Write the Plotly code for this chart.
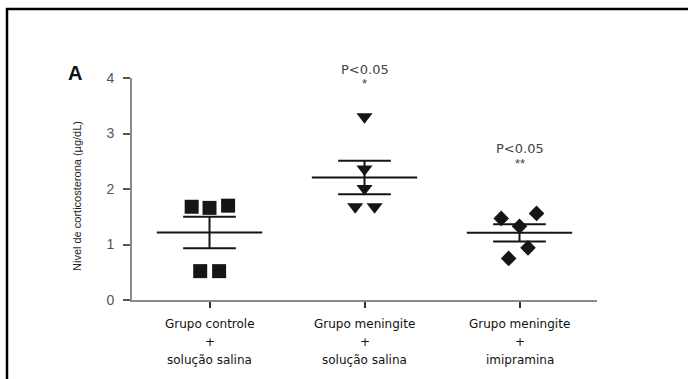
import numpy as np
import plotly.graph_objects as go

# Corticosterone levels (µg/dL) per animal, one list per group
controle_salina = [1.68, 1.66, 1.70, 0.52, 0.52]
meningite_salina = [3.30, 2.36, 2.01, 1.68, 1.68]
meningite_imipramina = [1.47, 1.56, 1.33, 0.94, 0.75]

group_values = [controle_salina, meningite_salina, meningite_imipramina]
group_line1 = ["Grupo controle", "Grupo meningite", "Grupo meningite"]
group_line3 = ["solução salina", "solução salina", "imipramina"]
p_labels = ["", "P<0.05", "P<0.05"]
star_labels = ["", "*", "**"]
y_ticks = [0, 1, 2, 3, 4]

# horizontal spread of the dots inside each column (scatter-dot layout)
spread = [
    [-0.115, 0.0, 0.12, -0.06, 0.062],
    [0.0, 0.0, 0.0, -0.06, 0.065],
    [-0.118, 0.11, 0.0, 0.055, -0.07],
]
symbols = ["square", "triangle-down", "diamond"]
sizes = [14, 14, 12]

# plot-area geometry in pixels
W, H = 688, 379
L, R, T, B = 132, 597, 78, 300
PW, PH = R - L, B - T


def px(x):
    return (x - L) / PW


def py(y):
    return (B - y) / PH


fig = go.Figure()
ink = "#151515"

for i, vals in enumerate(group_values):
    v = np.array(vals, dtype=float)
    mean = v.mean()
    sem = v.std(ddof=1) / np.sqrt(len(v))
    # mean line
    fig.add_trace(go.Scatter(x=[i - 0.34, i + 0.34], y=[mean, mean], mode="lines",
                             line=dict(color=ink, width=2), hoverinfo="skip",
                             showlegend=False, cliponaxis=False))
    # SEM whiskers
    for yv in (mean + sem, mean - sem):
        fig.add_trace(go.Scatter(x=[i - 0.17, i + 0.17], y=[yv, yv], mode="lines",
                                 line=dict(color=ink, width=2), hoverinfo="skip",
                                 showlegend=False, cliponaxis=False))
    fig.add_trace(go.Scatter(x=[i, i], y=[mean - sem, mean + sem], mode="lines",
                             line=dict(color=ink, width=2), hoverinfo="skip",
                             showlegend=False, cliponaxis=False))
    # individual animals
    fig.add_trace(go.Scatter(x=[i + d for d in spread[i]], y=v, mode="markers",
                             marker=dict(symbol=symbols[i], size=sizes[i], color=ink,
                                         line=dict(width=0)),
                             showlegend=False, cliponaxis=False))

annotations = []
label_font = dict(family="DejaVu Sans", size=12, color="#111")
for i in range(3):
    for txt, ypix in ((group_line1[i], 324), ("+", 342), (group_line3[i], 360)):
        annotations.append(dict(x=i, xref="x", y=py(ypix), yref="paper", text=txt,
                                showarrow=False, font=label_font,
                                xanchor="center", yanchor="middle"))

# significance marks
p_y = [None, 70, 148]
s_y = [None, 84, 163]
for i in range(3):
    if p_labels[i]:
        annotations.append(dict(x=i, xref="x", y=py(p_y[i]), yref="paper", text=p_labels[i],
                                showarrow=False,
                                font=dict(family="DejaVu Sans", size=13, color="#444"),
                                xanchor="center", yanchor="middle"))
        annotations.append(dict(x=i, xref="x", y=py(s_y[i]), yref="paper", text=star_labels[i],
                                showarrow=False,
                                font=dict(family="Liberation Sans", size=13, color="#444"),
                                xanchor="center", yanchor="middle"))

# panel letter
annotations.append(dict(x=px(75), y=py(73), xref="paper", yref="paper", text="<b>A</b>",
                        showarrow=False, font=dict(family="Liberation Sans", size=20, color="#111"),
                        xanchor="center", yanchor="middle"))
# y-axis title
annotations.append(dict(x=px(77), y=py(196), xref="paper", yref="paper",
                        text="Nivel de corticosterona (µg/dL)", textangle=-90,
                        showarrow=False, font=dict(family="Liberation Sans", size=11, color="#222"),
                        xanchor="center", yanchor="middle"))

# page frame around the figure (top and left edges inside the page)
shapes = [
    dict(type="line", xref="paper", yref="paper", x0=px(6), x1=px(688), y0=py(9), y1=py(9),
         line=dict(color="#000", width=2.5), layer="below"),
    dict(type="line", xref="paper", yref="paper", x0=px(7), x1=px(7), y0=py(8), y1=py(379),
         line=dict(color="#000", width=2.5), layer="below"),
]

fig.update_layout(
    width=W, height=H,
    margin=dict(l=L, r=W - R, t=T, b=H - B, pad=0),
    paper_bgcolor="white", plot_bgcolor="white",
    annotations=annotations, shapes=shapes,
    xaxis=dict(range=[-0.5, 2.5], showgrid=False, zeroline=False,
               showline=True, linecolor="#8a8a8a", linewidth=2,
               tickmode="array", tickvals=[0, 1, 2], ticktext=["", "", ""],
               ticks="outside", ticklen=6, tickwidth=2, tickcolor="#333"),
    yaxis=dict(range=[0, 4], showgrid=False, zeroline=False,
               showline=True, linecolor="#8a8a8a", linewidth=2,
               tickmode="array", tickvals=y_ticks, ticktext=[str(t) for t in y_ticks],
               ticks="outside", ticklen=7, tickwidth=2, tickcolor="#555",
               ticklabelstandoff=6,
               tickfont=dict(family="Liberation Sans", size=14, color="#555")),
)

fig.write_html("out.html")
